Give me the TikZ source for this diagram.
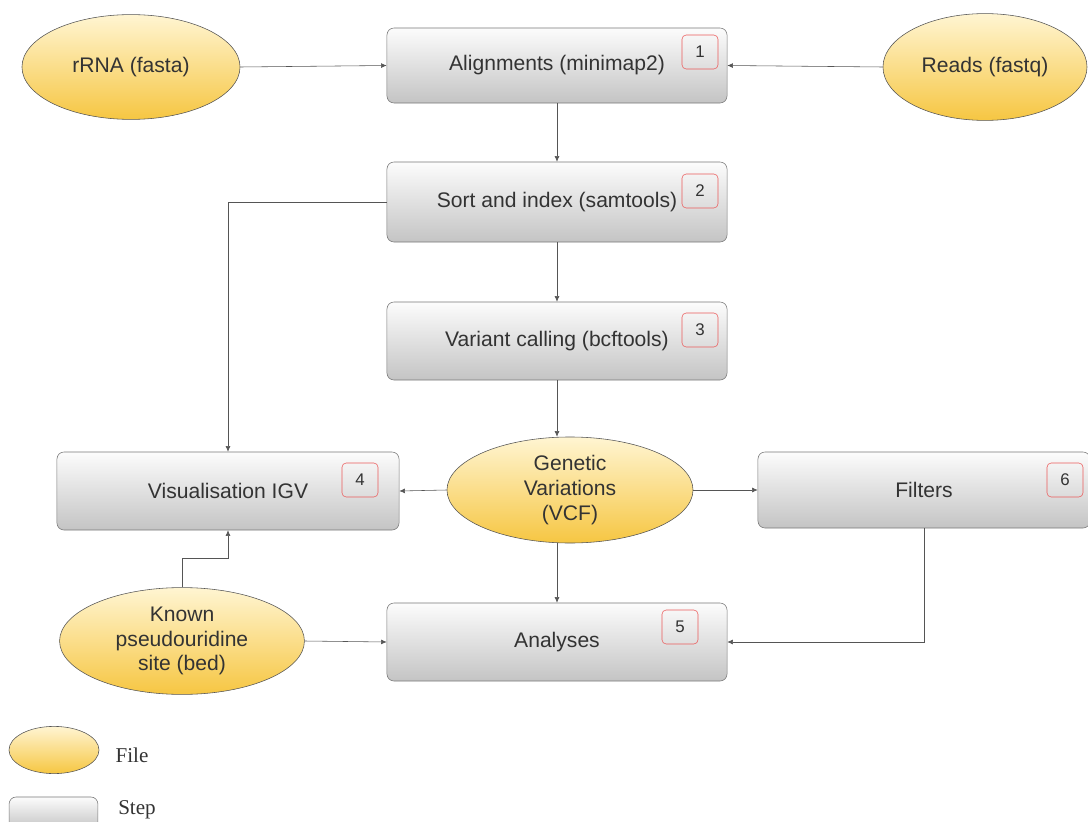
\documentclass[tikz,border=0pt]{standalone}
\usepackage{fontspec}
\setmainfont{Liberation Sans}
\newfontfamily\legendfont{Liberation Serif}
\usetikzlibrary{shapes.geometric, arrows.meta}
\definecolor{filetop}{RGB}{255,245,210}
\definecolor{filebot}{RGB}{246,198,66}
\definecolor{steptop}{RGB}{252,252,252}
\definecolor{stepbot}{RGB}{196,196,196}
\definecolor{inktext}{RGB}{51,51,51}
\definecolor{inkline}{RGB}{85,85,85}
\definecolor{badgered}{RGB}{235,90,90}

\begin{document}
\begin{tikzpicture}[x=0.025cm, y=-0.025cm,
        every node/.style={text=inktext, font=\fontsize{15}{17.5}\selectfont},
        stepbox/.style={draw=inkline!80, rounded corners=5pt, top color=steptop, bottom color=stepbot,
                        minimum width=8.5cm, minimum height=1.95cm, inner sep=0pt},
        filenode/.style={ellipse, draw=inkline, top color=filetop, bottom color=filebot,
                         inner sep=0pt, align=center},
        badge/.style={draw=badgered, rounded corners=3pt, minimum width=0.9cm, minimum height=0.85cm,
                      inner sep=0pt, font=\fontsize{12}{13}\selectfont},
        link/.style={draw=inkline, thin, -{Latex[length=4pt, width=3.5pt]}}]
        \useasboundingbox (0,0) rectangle (1088,822);

        \node [filenode, minimum width=5.45cm, minimum height=2.62cm] (rrna) at (131, 67) {rRNA (fasta)};
        \node [filenode, minimum width=5.1cm, minimum height=2.67cm] (reads) at (985, 67) {Reads (fastq)};
        \node [stepbox, minimum height=1.875cm] (align) at (557, 65.5) {Alignments (minimap2)};
        \node [stepbox, minimum height=2cm] (sort) at (557, 202) {Sort and index (samtools)};
        \node [stepbox] (variant) at (557, 341) {Variant calling (bcftools)};
        \node [stepbox, minimum width=8.55cm] (vis) at (228, 491) {Visualisation IGV};
        \node [filenode, minimum width=6.15cm, minimum height=2.65cm] (gen) at (570, 490) {Genetic\\Variations\\(VCF)};
        \node [stepbox, minimum width=8.3cm, minimum height=1.9cm] (filt) at (924, 490) {Filters};
        \node [filenode, minimum width=6.12cm, minimum height=2.67cm] (known) at (182, 641) {Known\\pseudouridine\\site (bed)};
        \node [stepbox] (ana) at (557, 642) {Analyses};

        \node [badge] (b1) at (700, 52) {1};
        \node [badge] (b2) at (700, 191) {2};
        \node [badge] (b3) at (700, 330) {3};
        \node [badge] (b4) at (360, 480) {4};
        \node [badge] (b5) at (680, 627) {5};
        \node [badge] (b6) at (1065, 480) {6};

        \coordinate (kbend) at (182, 558);
        \draw [link] (rrna.east) -- (align.west);
        \draw [link] (reads.west) -- (align.east);
        \draw [link] (align.south) -- (sort.north);
        \draw [link] (sort.west) -| (vis.north);
        \draw [link] (sort.south) -- (variant.north);
        \draw [link] (variant.south) -- (variant.south |- gen.north);
        \draw [link] (gen.west) -- (vis.east);
        \draw [link] (gen.east) -- (filt.west);
        \draw [link] (ana.north |- gen.south) -- (ana.north);
        \draw [link] (filt.south) |- (ana.east);
        \draw [link] (known.north) -- (kbend) -| (vis.south);
        \draw [link] (known.east) -- (ana.west);

        \node [filenode, minimum width=2.25cm, minimum height=1.18cm] (leg1) at (54, 750) {};
        \node [stepbox, minimum width=2.22cm, minimum height=0.8cm] (leg2) at (53.5, 813) {};
        \node [font=\legendfont\fontsize{15}{17}\selectfont] (legfile) at (132, 755) {File};
        \node [font=\legendfont\fontsize{15}{17}\selectfont] (legstep) at (137, 810) {Step};
      \end{tikzpicture}
\end{document}
